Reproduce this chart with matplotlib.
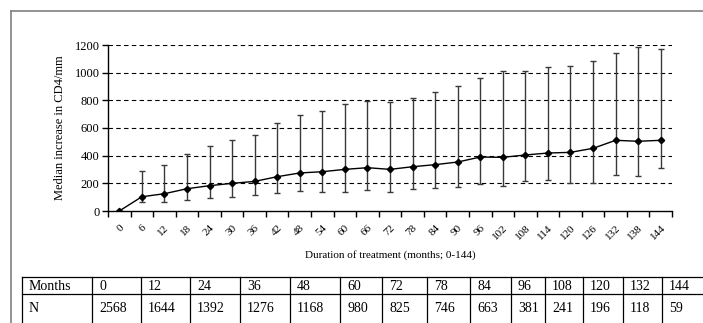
import matplotlib
matplotlib.use('Agg')
import matplotlib.pyplot as plt
import numpy as np

plt.rcParams['font.family'] = 'Liberation Serif'

# dados
meses = [0, 6, 12, 18, 24, 30, 36, 42, 48, 54, 60, 66, 72, 78, 84, 90, 96, 102, 108, 114, 120, 126, 132, 138, 144]
mediana = [0, 103, 125, 161, 183, 200, 214, 248, 275, 284, 301, 313, 301, 320, 335, 354, 390, 388, 405, 419, 424, 453, 511, 504, 511]
superior = [0, 287, 335, 412, 472, 516, 552, 639, 692, 723, 776, 793, 786, 819, 858, 906, 964, 1010, 1012, 1039, 1048, 1087, 1140, 1184, 1169]
inferior = [0, 67, 65, 82, 92, 104, 116, 130, 145, 135, 140, 150, 135, 157, 168, 173, 197, 183, 214, 226, 202, 200, 260, 253, 313]

tab_meses = ['0', '12', '24', '36', '48', '60', '72', '78', '84', '96', '108', '120', '132', '144']
tab_n = ['2568', '1644', '1392', '1276', '1168', '980', '825', '746', '663', '381', '241', '196', '118', '59']

W, H = 703, 323
fig = plt.figure(figsize=(W / 100, H / 100), dpi=100)

ax = fig.add_axes([108 / W, 1 - 211 / H, 564 / W, 166 / H])
x = np.arange(len(meses))
med = np.array(mediana)
erro = [med[1:] - np.array(inferior[1:]), np.array(superior[1:]) - med[1:]]
ax.errorbar(x[1:], med[1:], yerr=erro, fmt='none', ecolor='#3a3a3a',
            elinewidth=1, capsize=2.5, capthick=1, zorder=2)
ax.plot(x, med, color='black', marker='D', ms=3.2, lw=1, zorder=3)

ax.set_xlim(-0.5, len(meses) - 0.5)
ax.set_ylim(0, 1200)
ax.set_yticks(range(0, 1201, 200))
ax.set_xticks(np.arange(-0.5, len(meses), 1))
ax.set_xticklabels([])
ax.set_xticks(x, minor=True)
ax.set_xticklabels([str(m) for m in meses], minor=True, rotation=45,
                   ha='right', va='top', rotation_mode='anchor', fontsize=8)
ax.tick_params(axis='x', which='minor', length=0, pad=9)
ax.tick_params(axis='x', which='major', direction='out', length=4, width=1)
ax.tick_params(axis='y', direction='out', length=4, width=1, labelsize=9, pad=2)
for v in range(200, 1201, 200):
    ax.axhline(v, color='black', lw=0.8, ls=(0, (4, 3)), zorder=1)
for s in ['top', 'right']:
    ax.spines[s].set_visible(False)
ax.spines['left'].set_linewidth(1)
ax.spines['bottom'].set_linewidth(1)
ax.set_ylabel('Median increase in CD4/mm', fontsize=9, labelpad=6)
ax.set_xlabel('Duration of treatment (months; 0-144)', fontsize=8, labelpad=6)

# tabela e moldura desenhadas em pixels
tb = fig.add_axes([0, 0, 1, 1])
tb.set_xlim(0, W)
tb.set_ylim(H, 0)
tb.axis('off')
tb.patch.set_alpha(0)
tb.plot([11, W], [11, 11], color='#808080', lw=1.2)
tb.plot([11, 11], [11, H], color='#808080', lw=1.2)

cols = [22, 92, 141, 190, 240, 290, 340, 382, 427, 470, 511, 545, 583, 623, 662, 710]
for y in [277, 294]:
    tb.plot([cols[0], W], [y, y], color='black', lw=0.9)
for c in cols[:-1]:
    tb.plot([c, c], [277, H + 2], color='black', lw=0.9)
linhas = [['Months'] + tab_meses, ['N'] + tab_n]
for r, (yy, linha) in enumerate(zip([286, 308], linhas)):
    for c, txt in enumerate(linha):
        tb.text(cols[c] + 7, yy, txt, fontsize=10, va='center', ha='left')

fig.savefig('out.png', dpi=100)
